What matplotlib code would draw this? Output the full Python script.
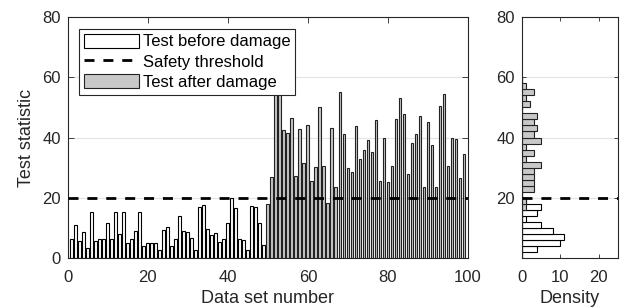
import numpy as np
import matplotlib
matplotlib.use("Agg")
import matplotlib.pyplot as plt
from matplotlib.patches import Patch
from matplotlib.lines import Line2D

plt.rcParams['font.family'] = ['Liberation Sans', 'DejaVu Sans']

# ---- data ----
before = [6.4, 10.8, 5.5, 8.5, 3.4, 15.4, 5.5, 6.4, 6.3, 11.5, 6.4, 15.3, 8.0, 15.3, 5.1,
          6.2, 9.0, 15.2, 4.1, 5.1, 5.1, 5.1, 2.7, 9.2, 10.4, 4.0, 6.3, 13.8, 9.1, 8.7,
          6.6, 2.7, 17.0, 17.5, 9.5, 7.5, 8.2, 5.4, 6.4, 11.5, 19.8, 16.7, 6.4, 6.0, 2.7,
          17.3, 16.9, 11.5, 4.2]
after = [17.8, 26.8, 57.0, 55.8, 42.4, 41.4, 46.6, 27.2, 42.7, 31.4, 44.3, 25.4, 30.3,
         50.0, 30.7, 18.1, 43.0, 23.5, 55.0, 41.2, 29.8, 28.7, 43.8, 32.7, 35.8, 39.2,
         35.1, 45.8, 25.4, 39.7, 25.3, 30.5, 46.0, 53.0, 47.7, 28.0, 38.3, 41.0, 47.3,
         23.6, 45.0, 37.5, 23.6, 50.4, 54.6, 30.4, 39.7, 39.4, 26.4, 34.6]
threshold = 20
labels = ["Test before damage", "Safety threshold", "Test after damage"]
bin_edges = list(range(0, 62, 2))

x_before = np.arange(1, len(before) + 1)
x_after = np.arange(len(before) + 1, len(before) + len(after) + 1)

gray = '#c8c8c8'
dash = (0, (3.6, 3.2))
W, H = 623, 307
fig = plt.figure(figsize=(W / 100, H / 100), dpi=100)

ax = fig.add_axes([67.7 / W, 1 - 258 / H, (468 - 67.7) / W, (258 - 17) / H])
ax.bar(x_before, before, width=0.7, color='white', edgecolor='black', linewidth=0.8, zorder=2)
ax.bar(x_after, after, width=0.7, color=gray, edgecolor='#222222', linewidth=0.8, zorder=2)
ax.axhline(threshold, color='black', linestyle=dash, linewidth=2, zorder=3)
ax.set_xlim(0, 100)
ax.set_ylim(0, 80)
ax.set_xticks([0, 20, 40, 60, 80, 100])
ax.set_yticks([0, 20, 40, 60, 80])
ax.yaxis.grid(True, color='#e3e3e3', linewidth=0.8, zorder=0)
ax.set_axisbelow(True)
ax.tick_params(direction='in', top=True, right=True, labelsize=12, length=4,
               width=0.6, colors='#262626')
ax.tick_params(axis='x', pad=9)
ax.tick_params(axis='y', pad=5)
for s in ax.spines.values():
    s.set_linewidth(0.8)
    s.set_color('#262626')
ax.set_xlabel("Data set number", fontsize=13, color='#262626', labelpad=3)
ax.set_ylabel("Test statistic", fontsize=13, color='#262626', labelpad=5)

handles = [Patch(facecolor='white', edgecolor='black', linewidth=0.8),
           Line2D([0], [0], color='black', linestyle=dash, linewidth=2),
           Patch(facecolor=gray, edgecolor='#222222', linewidth=0.8)]
leg = ax.legend(handles, labels, loc='upper left', fontsize=12, frameon=True,
                fancybox=False, edgecolor='#262626', framealpha=1,
                handlelength=3.3, handleheight=0.9, handletextpad=0.2,
                borderpad=0.3, labelspacing=0.28, borderaxespad=0.7)
leg.get_frame().set_linewidth(0.8)
leg.set_zorder(5)

ax2 = fig.add_axes([522 / W, 1 - 258 / H, (618 - 522) / W, (258 - 17) / H])
ax2.hist(before, bins=bin_edges, orientation='horizontal', color='white',
         edgecolor='black', linewidth=0.8, zorder=2)
ax2.hist(after, bins=bin_edges, orientation='horizontal', color=gray,
         edgecolor='#222222', linewidth=0.8, zorder=2)
ax2.axhline(threshold, color='black', linestyle=dash, linewidth=2, zorder=3)
ax2.set_xlim(0, 25)
ax2.set_ylim(0, 80)
ax2.set_xticks([0, 10, 20])
ax2.set_yticks([20, 40, 60, 80])
ax2.yaxis.grid(True, color='#e3e3e3', linewidth=0.8, zorder=0)
ax2.set_axisbelow(True)
ax2.tick_params(direction='in', top=True, right=True, labelsize=12, length=3,
                width=0.6, colors='#262626')
ax2.tick_params(axis='x', pad=9)
ax2.tick_params(axis='y', pad=5)
for s in ax2.spines.values():
    s.set_linewidth(0.8)
    s.set_color('#262626')
ax2.set_xlabel("Density", fontsize=13, color='#262626', labelpad=3)

fig.savefig("out.png", dpi=100)
